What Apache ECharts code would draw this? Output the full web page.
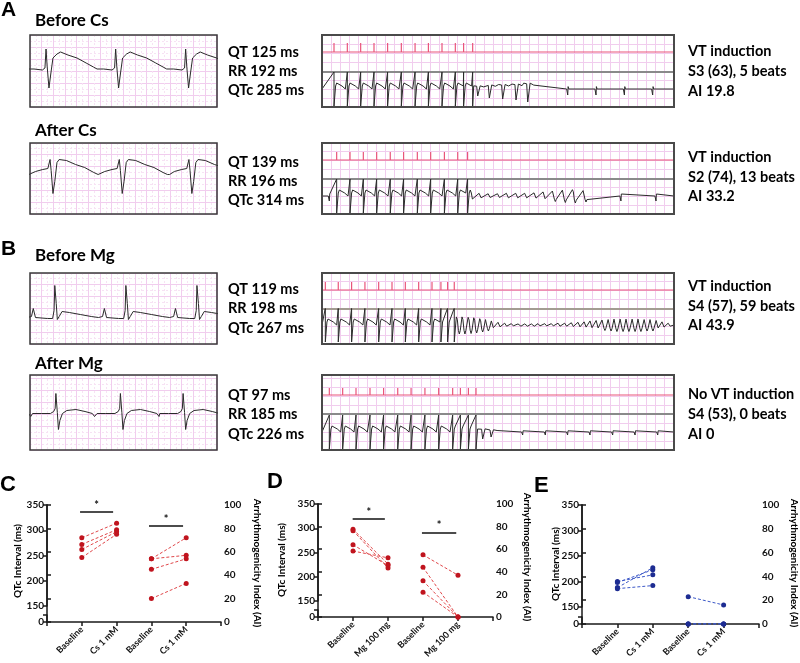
<!DOCTYPE html>
<html>
<head>
<meta charset="utf-8">
<script src="https://cdn.jsdelivr.net/npm/echarts@6/dist/echarts.min.js"></script>
<style>
  html, body { margin: 0; padding: 0; background: #fff; }
  #chart { width: 800px; height: 663px; }
</style>
</head>
<body>
<div id="chart"></div>
<script>
// ---------- surface ECG strips (ms from strip start, amplitude in px-like units) ----------
const beforeCsBeats = [-148, 44, 235, 427];
const beforeCsShape = [[-52, 2], [-42, 2], [-38, 4], [-33, 2], [-10, 1], [-3, 3], [0, 22], [3, 5], [8, -17], [13, -3], [19, 13], [30, 17], [40, 19], [60, 16], [85, 13], [110, 8], [130, 4], [140, 2]];
const afterCsBeats = [-135, 55, 245, 436];
const afterCsShape = [[-53, 4], [-40, 7], [-20, 9], [-6, 10], [-2, 12], [0, 19], [3, 8], [8, -15], [13, -3], [19, 16], [25, 19], [45, 18], [70, 14], [95, 11], [120, 6], [132, 4], [137, 3]];
const beforeMgBeats = [-127, 68, 263, 458];
const beforeMgShape = [[-75, -9], [-64, -8], [-59, 0], [-53, -9], [-20, -10], [-6, -10], [-2, -2], [0, 23], [4, 5], [7, -11], [12, -8], [20, -3], [40, -4], [70, -6], [100, -8], [120, -9]];
const afterMgBeats = [-104, 71, 248, 420];
const afterMgShape = [[-64, -1], [-40, -1], [-15, -1], [-6, 1], [-2, 4], [0, 19], [4, 0], [7, -17], [11, -8], [18, -1], [30, 2], [55, 3], [80, 1], [100, -1], [106, -4], [111, -2]];

// ---------- programmed stimulation strips ----------
const pacedShape = [[0, 17], [0, -17], [6, -15], [12, 3], [20, 6], [35, 5], [60, 3], [85, 0]];
const wideVtShape = [[-30, 0.45], [-8, 0.4], [0, -1], [10, -0.9], [18, 0.45], [45, 0.3]];
const fastVtShape = [[-22, 0.9], [-15, 0.6], [-7, -0.6], [0, -1], [7, -0.6]];
const sinusShape = [[-8, 0], [-2, 0.3], [0, -1], [3, 0.4], [8, 0]];

const vtBeforeCsStim = [90, 190, 290, 390, 492, 595, 698, 798, 900, 1000, 1062, 1130];
const vtBeforeCsRun = [[1168, 7], [1255, 9], [1355, 10], [1455, 11], [1543, 13]];
const vtBeforeCsSinus = [1843, 2055, 2268, 2480];

const vtAfterCsStim = [110, 210, 310, 410, 512, 612, 715, 815, 918, 1018, 1092];
const vtAfterCsRun = [[1135, 5], [1200, 3], [1268, 2.5], [1338, 2.5], [1405, 3], [1475, 3], [1542, 3], [1612, 3.5], [1680, 4.5], [1750, 5.5], [1825, 6.5], [1900, 7], [1980, 6]];
const vtAfterCsSinus = [55, 2242, 2505];

const vtBeforeMgStim = [25, 122, 222, 322, 425, 525, 625, 725, 825, 892, 942, 992];
const vtBeforeMgRunTimes = [1030, 1072, 1118, 1160, 1205, 1248, 1292, 1342, 1392, 1442, 1492, 1542, 1592, 1642, 1692, 1742, 1792, 1842, 1892, 1942, 1988, 2032, 2078, 2122, 2168, 2212, 2258, 2302, 2348, 2392, 2438, 2482, 2528, 2572, 2618];
const vtBeforeMgRunAmps = [9, 9, 8.5, 8, 7, 6, 4.5, 3, 2, 1.5, 1.2, 1.2, 1.2, 1.5, 1.5, 1.5, 2, 2, 2.5, 3, 3.5, 4.5, 5, 5.5, 6, 6.5, 6.5, 6.5, 6.5, 6.5, 6, 6, 5, 3.5, 2];

const vtAfterMgStim = [55, 155, 255, 360, 462, 568, 668, 772, 875, 980, 1038, 1098, 1155];
const vtAfterMgRun = [[1205, 7], [1268, 5]];
const vtAfterMgSinus = [1505, 1675, 1842, 2010, 2180, 2348, 2518];

// ---------- summary panels ----------
const csCats = ['Baseline', 'Cs 1 mM', 'Baseline', 'Cs 1 mM'];
const csQtcBaseline = [285, 272, 262, 246];
const csQtcAfter = [314, 301, 297, 292];
const csAiBaseline = [54, 54, 45, 20];
const csAiAfter = [72, 57, 54, 33];
const csSigBars = [[0.95, 1.9, 94], [2.93, 3.91, 82]];

const mgCats = ['Baseline', 'Mg 100 mg', 'Baseline', 'Mg 100 mg'];
const mgQtcBaseline = [298, 295, 266, 253];
const mgQtcAfter = [226, 218, 223, 239];
const mgAiBaseline = [55, 44, 32, 22];
const mgAiAfter = [37, 0, 0, 0];
const mgSigBars = [[0.99, 1.91, 87], [2.97, 3.95, 75]];

const ctlCats = ['Baseline', 'Cs 1 mM', 'Baseline', 'Cs 1 mM'];
const ctlQtcBaseline = [200, 198, 188, 186];
const ctlQtcAfter = [213, 223, 227, 192];
const ctlAiBaseline = [23, 0, 0, 0];
const ctlAiAfter = [16, 0, 0, 0];

const qtcTicks = [150, 200, 250, 300, 350];
const aiTicks = [0, 20, 40, 60, 80, 100];

// ---------- builders ----------
const FONT = 'Lato, "Open Sans", sans-serif';
const grids = [], xAxes = [], yAxes = [], series = [], graphics = [];

function addGrid(g, x, y) {
  const i = grids.length;
  grids.push(g);
  xAxes.push(Object.assign({ gridIndex: i, type: 'value' }, x));
  yAxes.push(Object.assign({ gridIndex: i, type: 'value' }, y));
  return i;
}

const hidden = { show: false };
function pinkAxis(min, max, interval, minor) {
  return {
    min, max, interval,
    axisLine: hidden, axisTick: hidden, axisLabel: hidden,
    splitLine: { show: true, lineStyle: { color: '#f1cdee', width: 1 } },
    minorTick: { show: false, splitNumber: 2 },
    minorSplitLine: { show: !!minor, lineStyle: { color: '#f7e2f4', width: 1, type: [2, 2] } }
  };
}
function trace(i, data, color, width) {
  series.push({
    type: 'line', xAxisIndex: i, yAxisIndex: i, data,
    showSymbol: false, symbol: 'none', silent: true, clip: true,
    lineStyle: { color, width }
  });
}
function frame(x, y, w, h, color, lw) {
  graphics.push({
    type: 'rect', silent: true, z: 100,
    shape: { x, y, width: w, height: h },
    style: { fill: 'none', stroke: color, lineWidth: lw }
  });
}

function buildStrip(beats, shape) {
  const pts = [];
  beats.forEach(t => shape.forEach(([dt, v]) => pts.push([t + dt, v])));
  return pts;
}

function buildVt(stim, run, runShape, sinus, sinusAmp, span) {
  const events = [];
  stim.forEach(t => events.push(pacedShape.map(([dt, v]) => [t + dt, v])));
  run.forEach(([t, a]) => events.push(runShape.map(([dt, v]) => [t + dt, v * a])));
  sinus.forEach(t => events.push(sinusShape.map(([dt, v]) => [t + dt, v * sinusAmp])));
  events.sort((a, b) => a[0][0] - b[0][0]);
  const pts = [[0, 0]];
  events.forEach((ev, k) => {
    const limit = k + 1 < events.length ? events[k + 1][0][0] : Infinity;
    ev.forEach(p => { if (p[0] < limit) pts.push(p); });
  });
  pts.push([span, 0]);
  return pts;
}

function buildStim(stim, h, span) {
  const pts = [[0, 0]];
  stim.forEach(t => pts.push([t, 0], [t, h], [t, 0]));
  pts.push([span, 0]);
  return pts;
}

function text(x, y, str, font, opts) {
  const o = opts || {};
  const el = {
    type: 'text', x, y, silent: true, z: 100,
    style: {
      text: str, font, fill: '#000',
      textAlign: o.align || 'left', align: o.align || 'left',
      textVerticalAlign: 'middle', verticalAlign: 'middle'
    }
  };
  if (o.rotation !== undefined) el.rotation = o.rotation;
  graphics.push(el);
}

// ---------- surface strips ----------
const STRIP_MS = 513;
const strips = [
  { top: 35, h: 72, beats: beforeCsBeats, shape: beforeCsShape },
  { top: 143, h: 71, beats: afterCsBeats, shape: afterCsShape },
  { top: 273, h: 71, beats: beforeMgBeats, shape: beforeMgShape },
  { top: 375, h: 75, beats: afterMgBeats, shape: afterMgShape }
];
strips.forEach(s => {
  const i = addGrid(
    { left: 30, top: s.top, width: 187, height: s.h },
    pinkAxis(0, STRIP_MS, 32, true),
    pinkAxis(-s.h / 2, s.h / 2, 12, true)
  );
  trace(i, buildStrip(s.beats, s.shape), '#2a2a2a', 1);
  frame(30, s.top, 187, s.h, '#3a3a3a', 1.5);
});

// ---------- stimulation strips ----------
const VT_MS = 2640;
const vts = [
  { top: 35, h: 72, stim: 17, sep: 37, base: 54, spike: 9, sepColor: '#8a8a8a',
    stimT: vtBeforeCsStim, run: vtBeforeCsRun, shape: wideVtShape, sinus: vtBeforeCsSinus, sAmp: 6 },
  { top: 143, h: 71, stim: 17, sep: 36, base: 53, spike: 8, sepColor: '#8a8a8a',
    stimT: vtAfterCsStim, run: vtAfterCsRun, shape: fastVtShape, sinus: vtAfterCsSinus, sAmp: 5 },
  { top: 273, h: 71, stim: 17, sep: 36, base: 52, spike: 8, sepColor: '#a39c92',
    stimT: vtBeforeMgStim, run: vtBeforeMgRunTimes.map((t, k) => [t, vtBeforeMgRunAmps[k]]), shape: fastVtShape, sinus: [], sAmp: 0 },
  { top: 375, h: 75, stim: 20, sep: 39, base: 57, spike: 7, sepColor: '#8a8a8a',
    stimT: vtAfterMgStim, run: vtAfterMgRun, shape: wideVtShape, sinus: vtAfterMgSinus, sAmp: 3 }
];
vts.forEach(v => {
  addGrid(
    { left: 322, top: v.top, width: 352, height: v.h },
    pinkAxis(0, VT_MS, 67.5, false),
    pinkAxis(0, v.h, 9, false)
  );
  const si = addGrid(
    { left: 322, top: v.top, width: 352, height: v.sep },
    { min: 0, max: VT_MS, show: false },
    { min: -(v.sep - v.stim), max: v.stim, show: false }
  );
  trace(si, buildStim(v.stimT, v.spike, VT_MS), '#e9557a', 1.2);
  const ei = addGrid(
    { left: 322, top: v.top + v.sep, width: 352, height: v.h - v.sep },
    { min: 0, max: VT_MS, position: 'top', axisLine: { show: true, onZero: false, lineStyle: { color: v.sepColor, width: 2 } },
      axisTick: hidden, axisLabel: hidden, splitLine: hidden },
    { min: -(v.h - v.base), max: v.base - v.sep, show: false }
  );
  trace(ei, buildVt(v.stimT, v.run, v.shape, v.sinus, v.sAmp, VT_MS), '#2a2a2a', 1);
  frame(322, v.top, 352, v.h, '#4a4a4a', 2);
});

// ---------- summary panels ----------
const axisLineStyle = { show: true, lineStyle: { color: '#1a1a1a', width: 1.5 } };
const tickStyle = { show: true, length: 4, lineStyle: { color: '#1a1a1a', width: 1.5 } };
const tickLabel = { fontFamily: FONT, fontWeight: 'bold', fontSize: 10, color: '#111', margin: 3 };

const panels = [
  { L: 47, R: 221, T: 505, q150: 606, stubTop: 615, zero: 622, cats: csCats,
    qb: csQtcBaseline, qa: csQtcAfter, ab: csAiBaseline, aa: csAiAfter, sig: csSigBars,
    dot: '#c0141e', dash: '#e0474a' },
  { L: 318, R: 493, T: 504, q150: 601, stubTop: 610, zero: 617, cats: mgCats,
    qb: mgQtcBaseline, qa: mgQtcAfter, ab: mgAiBaseline, aa: mgAiAfter, sig: mgSigBars,
    dot: '#c0141e', dash: '#e0474a' },
  { L: 582, R: 759, T: 505, q150: 607, stubTop: 617, zero: 624, cats: ctlCats,
    qb: ctlQtcBaseline, qa: ctlQtcAfter, ab: ctlAiBaseline, aa: ctlAiAfter, sig: [],
    dot: '#1d2c92', dash: '#3c58c8' }
];

panels.forEach(p => {
  const W = p.R - p.L;
  const qi = addGrid(
    { left: p.L, top: p.T, width: W, height: p.q150 - p.T },
    { min: 0, max: 5, show: false },
    { min: qtcTicks[0], max: qtcTicks[qtcTicks.length - 1], interval: 50,
      axisLine: axisLineStyle, axisTick: tickStyle, axisLabel: tickLabel, splitLine: hidden }
  );
  addGrid(
    { left: p.L, top: p.stubTop, width: W, height: p.zero - p.stubTop },
    { min: 0, max: 5, show: false },
    { min: 0, max: 1, interval: 1, axisLine: axisLineStyle, axisTick: tickStyle,
      axisLabel: Object.assign({}, tickLabel, { formatter: v => (v === 0 ? '0' : '') }), splitLine: hidden }
  );
  const mi = addGrid(
    { left: p.L, top: p.T, width: W, height: p.zero - p.T },
    { min: 0, max: 5, interval: 1, axisLine: axisLineStyle, axisTick: tickStyle, splitLine: hidden,
      axisLabel: { fontFamily: FONT, fontWeight: 'bold', fontSize: 9, color: '#111', rotate: 45, margin: 6,
        formatter: v => p.cats[v - 1] || '' } },
    { position: 'right', min: aiTicks[0], max: aiTicks[aiTicks.length - 1], interval: 20,
      axisLine: axisLineStyle, axisTick: tickStyle, axisLabel: tickLabel, splitLine: hidden }
  );
  const pair = (i, data, extra) => series.push(Object.assign({
    type: 'line', xAxisIndex: i, yAxisIndex: i, data, silent: true,
    symbol: 'circle', symbolSize: 5, showSymbol: true,
    itemStyle: { color: p.dot }, lineStyle: { color: p.dash, width: 1, type: [3, 2] }, z: 3
  }, extra || {}));
  p.qb.forEach((v, k) => pair(qi, [[1, v], [2, p.qa[k]]]));
  p.ab.forEach((v, k) => pair(mi, [[3, v], [4, p.aa[k]]], k === 0 && p.sig.length ? {
    markLine: {
      silent: true, symbol: 'none',
      lineStyle: { color: '#111', width: 1.5, type: 'solid' },
      label: { show: true, position: 'middle', formatter: '*', fontSize: 11, fontWeight: 'bold', color: '#111', distance: 1 },
      data: p.sig.map(([a, b, y]) => [{ coord: [a, y] }, { coord: [b, y] }])
    }
  } : null));
});

// ---------- text ----------
const letterFont = 'bold 21px Arial, "Liberation Sans", sans-serif';
const bigLetter = 'bold 22px Arial, "Liberation Sans", sans-serif';
text(1, 10, 'A', letterFont);
text(1, 249, 'B', letterFont);
text(0, 485, 'C', bigLetter);
text(267, 482, 'D', bigLetter);
text(534, 486, 'E', bigLetter);

const titleFont = 'bold 17px ' + FONT;
text(35, 21, 'Before Cs', titleFont);
text(35, 131, 'After Cs', titleFont);
text(35, 256, 'Before Mg', titleFont);
text(35, 364, 'After Mg', titleFont);

const infoFont = 'bold 14.5px ' + FONT;
[
  [52, 'QT 125 ms'], [71, 'RR 192 ms'], [90.5, 'QTc 285 ms'],
  [162, 'QT 139 ms'], [181, 'RR 196 ms'], [200.5, 'QTc 314 ms'],
  [289.5, 'QT 119 ms'], [308.7, 'RR 198 ms'], [328.3, 'QTc 267 ms'],
  [395, 'QT 97 ms'], [414.7, 'RR 185 ms'], [434.3, 'QTc 226 ms']
].forEach(([y, s]) => text(228, y, s, infoFont));
[
  [51.5, 'VT induction'], [71.5, 'S3 (63), 5 beats'], [91.5, 'AI 19.8'],
  [157, 'VT induction'], [177, 'S2 (74), 13 beats'], [196.7, 'AI 33.2'],
  [286.7, 'VT induction'], [306.7, 'S4 (57), 59 beats'], [325.7, 'AI 43.9'],
  [394.5, 'No VT induction'], [414, 'S4 (53), 0 beats'], [434, 'AI 0']
].forEach(([y, s]) => text(688, y, s, infoFont));

const axisTitleFont = 'bold 10px ' + FONT;
[[17.5, 561], [282, 560], [555.5, 564]].forEach(([x, y]) =>
  text(x, y, 'QTc Interval (ms)', axisTitleFont, { align: 'center', rotation: Math.PI / 2 }));
[[257, 563], [527, 557], [794, 563]].forEach(([x, y]) =>
  text(x, y, 'Arrhythmogenicity Index (AI)', axisTitleFont, { align: 'center', rotation: -Math.PI / 2 }));

// ---------- render ----------
const chart = echarts.init(document.getElementById('chart'), null, { renderer: 'canvas' });
chart.setOption({
  animation: false,
  backgroundColor: '#fff',
  textStyle: { fontFamily: FONT },
  grid: grids,
  xAxis: xAxes,
  yAxis: yAxes,
  series,
  graphic: graphics
});
</script>
</body>
</html>
